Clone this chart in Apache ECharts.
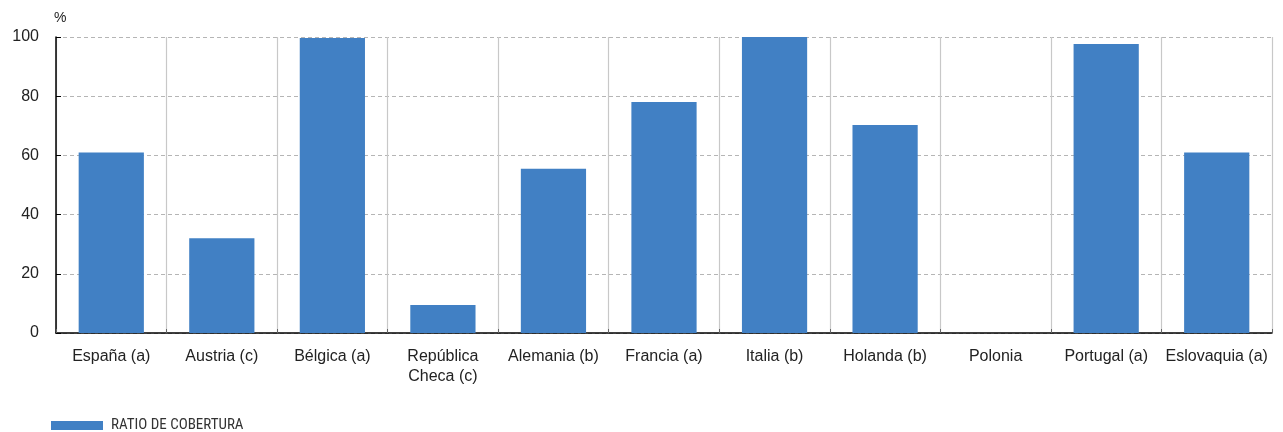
<!DOCTYPE html>
<html><head><meta charset="utf-8">
<script src="https://cdn.jsdelivr.net/npm/echarts@6/dist/echarts.min.js"></script>
<style>html,body{margin:0;padding:0;background:#fff}#c{width:1283px;height:432px}</style>
</head><body><div id="c"></div>
<script>
const categories = ['España (a)','Austria (c)','Bélgica (a)','República\nCheca (c)','Alemania (b)','Francia (a)','Italia (b)','Holanda (b)','Polonia','Portugal (a)','Eslovaquia (a)'];
const ratioCobertura = [61, 32, 99.7, 9.5, 55.5, 78, 100, 70.3, 0, 97.6, 61];
const yTicks = [0, 20, 40, 60, 80, 100];
const seriesName = 'RATIO DE COBERTURA';

const chart = echarts.init(document.getElementById('c'));
chart.setOption({
  animation: false,
  grid: {left: 56, right: 11, top: 37, bottom: 99, containLabel: false},
  legend: {
    left: 46, top: 413, itemWidth: 52, itemHeight: 9, itemGap: 10,
    icon: 'rect',
    textStyle: {fontFamily: 'Liberation Sans Narrow, Roboto Condensed, sans-serif', fontSize: 15, color: '#333', padding: [0,0,0,3]},
    data: [seriesName]
  },
  xAxis: {
    type: 'category', data: categories,
    axisLine: {lineStyle: {color: '#000', width: 1.5}},
    axisTick: {show: true, inside: true, length: 4, lineStyle: {color: '#666'}},
    splitLine: {show: true, lineStyle: {color: '#c8c8c8', width: 1.2}},
    axisLabel: {fontFamily: 'Helvetica, Arial, Liberation Sans, sans-serif', fontSize: 16, color: '#222', margin: 14, lineHeight: 20, interval: 0}
  },
  yAxis: {
    type: 'value', min: 0, max: 100, interval: 20,
    name: '%', nameLocation: 'end', nameGap: 12,
    nameTextStyle: {fontFamily: 'Liberation Sans, sans-serif', fontSize: 14, color: '#222', align: 'left', padding: [0,0,0,-2]},
    axisLine: {show: true, lineStyle: {color: '#000', width: 1.5}},
    axisTick: {show: true, inside: true, length: 5, lineStyle: {color: '#000'}},
    splitLine: {show: true, lineStyle: {color: '#b5b5b5', type: [4, 3], width: 1}},
    axisLabel: {fontFamily: 'Helvetica, Arial, Liberation Sans, sans-serif', fontSize: 16, color: '#222', margin: 17,
      formatter: v => yTicks.includes(v) ? String(v) : ''}
  },
  series: [{
    name: seriesName, type: 'bar', data: ratioCobertura,
    barCategoryGap: '41%',
    itemStyle: {color: '#4180c4'}
  }]
});
</script></body></html>
